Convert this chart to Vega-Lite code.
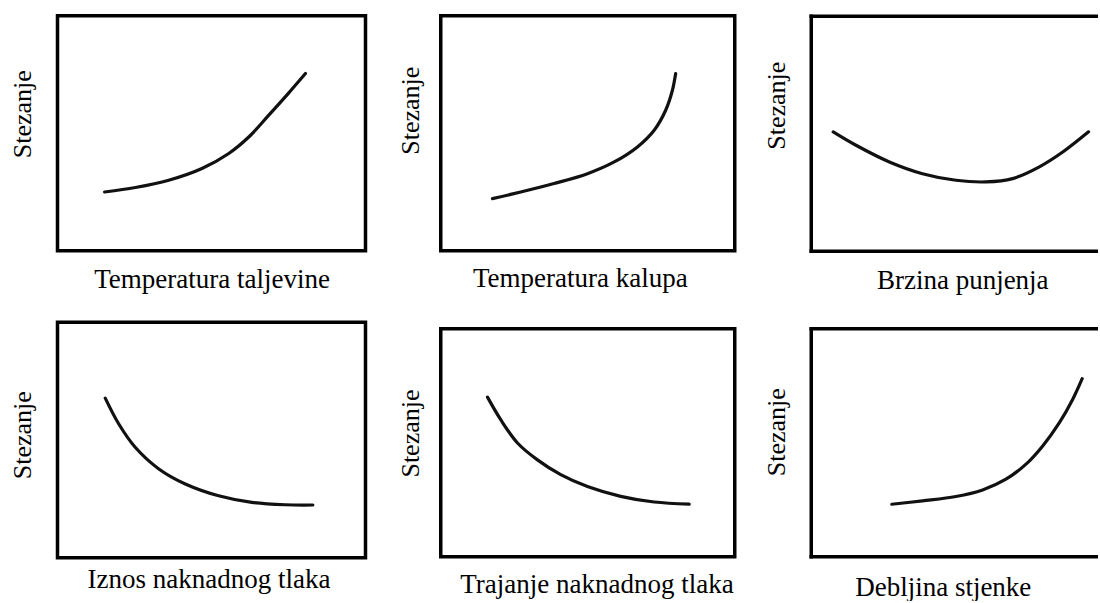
{
  "$schema": "https://vega.github.io/schema/vega-lite/v6.json",
  "background": "white",
  "padding": {"left": 7.5, "top": 13.75, "right": 0, "bottom": 0},
  "datasets": {
    "p1": [{"x":15.3,"y":25.0},{"x":25.3,"y":26.9},{"x":36.1,"y":30.0},{"x":46.9,"y":35.0},{"x":55.6,"y":41.4},{"x":62.1,"y":48.4},{"x":68.6,"y":57.7},{"x":75.1,"y":67.2},{"x":80.5,"y":75.4}],
    "p2": [{"x":17.6,"y":22.2},{"x":27.2,"y":25.0},{"x":38.5,"y":28.6},{"x":49.9,"y":32.8},{"x":59.0,"y":37.8},{"x":66.9,"y":44.2},{"x":72.6,"y":51.3},{"x":76.5,"y":59.8},{"x":78.8,"y":68.3},{"x":79.9,"y":75.4}],
    "p3": [{"x":7.4,"y":50.6},{"x":14.9,"y":44.9},{"x":25.9,"y":37.8},{"x":36.8,"y":32.8},{"x":47.8,"y":30.0},{"x":57.7,"y":29.3},{"x":66.5,"y":30.7},{"x":75.3,"y":35.7},{"x":83.0,"y":42.0},{"x":91.5,"y":50.6}],
    "p4": [{"x":15.5,"y":67.8},{"x":19.9,"y":56.8},{"x":25.3,"y":46.8},{"x":32.9,"y":37.7},{"x":41.5,"y":31.3},{"x":52.3,"y":26.3},{"x":63.1,"y":23.5},{"x":74.0,"y":22.5},{"x":82.9,"y":22.4}],
    "p5": [{"x":15.9,"y":70.0},{"x":20.4,"y":60.1},{"x":26.1,"y":49.9},{"x":32.9,"y":42.5},{"x":40.8,"y":36.0},{"x":49.9,"y":30.8},{"x":61.2,"y":26.5},{"x":72.6,"y":24.0},{"x":84.5,"y":23.1}],
    "p6": [{"x":26.7,"y":22.8},{"x":36.8,"y":24.3},{"x":47.8,"y":26.2},{"x":56.6,"y":29.1},{"x":64.3,"y":33.8},{"x":70.9,"y":40.4},{"x":76.4,"y":48.4},{"x":81.9,"y":58.6},{"x":86.3,"y":68.9},{"x":89.4,"y":77.9}]
  },
  "hconcat": [
    {
      "hconcat": [
        {
          "vconcat": [
            {
              "width": 308, "height": 235,
              "data": {"name": "p1"},
              "mark": {"type": "line", "interpolate": "catmull-rom", "strokeWidth": 3.2, "color": "#111", "strokeCap": "round"},
              "encoding": {
                "x": {"field": "x", "type": "quantitative", "scale": {"domain": [0, 100]}, "axis": {"title": "Temperatura taljevine", "titlePadding": 15.5}},
                "y": {"field": "y", "type": "quantitative", "scale": {"domain": [0, 100]}, "axis": {"title": "Stezanje", "titlePadding": 22, "titleY": 98}}
              }
            },
            {
              "width": 308, "height": 235.5,
              "data": {"name": "p4"},
              "mark": {"type": "line", "interpolate": "catmull-rom", "strokeWidth": 3.2, "color": "#111", "strokeCap": "round"},
              "encoding": {
                "x": {"field": "x", "type": "quantitative", "scale": {"domain": [0, 100]}, "axis": {"title": "Iznos naknadnog tlaka", "titlePadding": 8.7, "titleX": 151}},
                "y": {"field": "y", "type": "quantitative", "scale": {"domain": [0, 100]}, "axis": {"title": "Stezanje", "titlePadding": 22, "titleY": 112.5}}
              }
            }
          ],
          "spacing": 25.5
        },
        {
          "vconcat": [
            {
              "width": 294, "height": 235,
              "data": {"name": "p2"},
              "mark": {"type": "line", "interpolate": "catmull-rom", "strokeWidth": 3.2, "color": "#111", "strokeCap": "round"},
              "encoding": {
                "x": {"field": "x", "type": "quantitative", "scale": {"domain": [0, 100]}, "axis": {"title": "Temperatura kalupa", "titlePadding": 15.2, "titleX": 139}},
                "y": {"field": "y", "type": "quantitative", "scale": {"domain": [0, 100]}, "axis": {"title": "Stezanje", "titlePadding": 17, "titleY": 94.5}}
              }
            },
            {
              "width": 294, "height": 228,
              "data": {"name": "p5"},
              "mark": {"type": "line", "interpolate": "catmull-rom", "strokeWidth": 3.2, "color": "#111", "strokeCap": "round"},
              "encoding": {
                "x": {"field": "x", "type": "quantitative", "scale": {"domain": [0, 100]}, "axis": {"title": "Trajanje naknadnog tlaka", "titlePadding": 14.8, "titleX": 155.8}},
                "y": {"field": "y", "type": "quantitative", "scale": {"domain": [0, 100]}, "axis": {"title": "Stezanje", "titlePadding": 17, "titleY": 104.3}}
              }
            }
          ],
          "spacing": 33
        }
      ],
      "spacing": 28.25
    },
    {
      "vconcat": [
        {
          "width": 286, "height": 235,
          "view": {"stroke": null},
          "data": {"name": "p3"},
          "layer": [
            {
              "mark": {"type": "line", "interpolate": "catmull-rom", "strokeWidth": 3.2, "color": "#111", "strokeCap": "round"},
              "encoding": {
                "x": {"field": "x", "type": "quantitative", "scale": {"domain": [0, 94.2]}, "axis": {"title": "Brzina punjenja", "titlePadding": 16.3, "titleX": 151.5, "domain": true, "domainColor": "black", "domainWidth": 3.5, "domainCap": "square"}},
                "y": {"field": "y", "type": "quantitative", "scale": {"domain": [0, 100]}, "axis": {"title": "Stezanje", "titlePadding": 21.5, "titleY": 89.5, "domain": true, "domainColor": "black", "domainWidth": 3.5, "domainCap": "square"}}
              }
            },
            {
              "mark": {"type": "line", "interpolate": "catmull-rom", "opacity": 0},
              "encoding": {
                "x": {"field": "x", "type": "quantitative", "scale": {"domain": [0, 94.2]}, "axis": {"orient": "top", "title": null, "domain": true, "domainColor": "black", "domainWidth": 3.5, "domainCap": "square"}},
                "y": {"field": "y", "type": "quantitative", "scale": {"domain": [0, 100]}, "axis": null}
              }
            }
          ],
          "resolve": {"axis": {"x": "independent", "y": "independent"}}
        },
        {
          "width": 286, "height": 228,
          "view": {"stroke": null},
          "data": {"name": "p6"},
          "layer": [
            {
              "mark": {"type": "line", "interpolate": "catmull-rom", "strokeWidth": 3.2, "color": "#111", "strokeCap": "round"},
              "encoding": {
                "x": {"field": "x", "type": "quantitative", "scale": {"domain": [0, 94.2]}, "axis": {"title": "Debljina stjenke", "titlePadding": 18, "titleX": 132, "domain": true, "domainColor": "black", "domainWidth": 3.5, "domainCap": "square"}},
                "y": {"field": "y", "type": "quantitative", "scale": {"domain": [0, 100]}, "axis": {"title": "Stezanje", "titlePadding": 21.5, "titleY": 103.5, "domain": true, "domainColor": "black", "domainWidth": 3.5, "domainCap": "square"}}
              }
            },
            {
              "mark": {"type": "line", "interpolate": "catmull-rom", "opacity": 0},
              "encoding": {
                "x": {"field": "x", "type": "quantitative", "scale": {"domain": [0, 94.2]}, "axis": {"orient": "top", "title": null, "domain": true, "domainColor": "black", "domainWidth": 3.5, "domainCap": "square"}},
                "y": {"field": "y", "type": "quantitative", "scale": {"domain": [0, 100]}, "axis": null}
              }
            }
          ],
          "resolve": {"axis": {"x": "independent", "y": "independent"}}
        }
      ],
      "spacing": 34.5
    }
  ],
  "spacing": 26.25,
  "config": {
    "view": {"stroke": "black", "strokeWidth": 3.5},
    "axis": {"domain": false, "ticks": false, "labels": false, "grid": false, "titleFont": "Liberation Serif", "titleFontSize": 26, "titleFontWeight": "normal", "titleColor": "black"},
    "axisX": {"titleFontSize": 27},
    "axisY": {"titleFontSize": 26}
  }
}
